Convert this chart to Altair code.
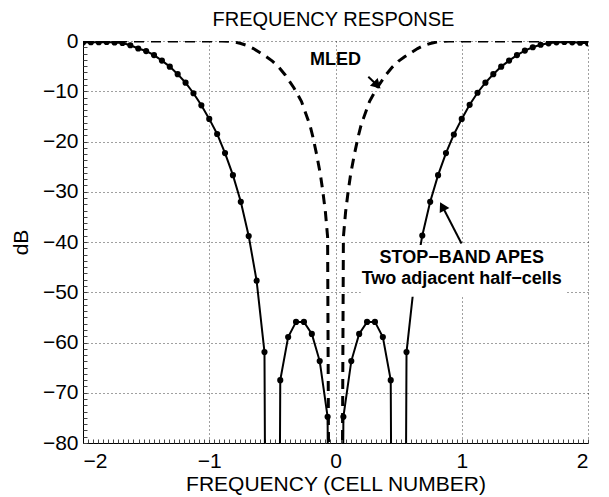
import altair as alt
import pandas as pd

FONT = "Liberation Sans"
NULL_DB = -400  # stands for -inf dB, drawn below the axis floor and clipped

# STOP-BAND APES (solid with markers), cell-number frequency
apes_freq = [
    -2.0, -1.9375, -1.875, -1.8125, -1.75, -1.6875, -1.625, -1.5625,
    -1.5, -1.4375, -1.375, -1.3125, -1.25, -1.1875, -1.125, -1.0625,
    -1.0, -0.9375, -0.875, -0.8125, -0.75, -0.6875, -0.625, -0.5625,
    -0.5, -0.4375, -0.375, -0.3125, -0.25, -0.1875, -0.125, -0.0625,
    0.0,
    0.0625, 0.125, 0.1875, 0.25, 0.3125, 0.375, 0.4375, 0.5,
    0.5625, 0.625, 0.6875, 0.75, 0.8125, 0.875, 0.9375, 1.0,
    1.0625, 1.125, 1.1875, 1.25, 1.3125, 1.375, 1.4375, 1.5,
    1.5625, 1.625, 1.6875, 1.75, 1.8125, 1.875, 1.9375, 2.0,
]
apes_db = [
    -0.3, -0.25, -0.25, -0.2, -0.3, -0.4, -0.85, -1.5,
    -2.0, -2.8, -3.9, -5.1, -6.6, -8.3, -10.4, -12.8,
    -15.5, -18.5, -22.3, -26.7, -32.0, -38.8, -47.7, -61.9,
    NULL_DB, -67.5, -58.9, -55.9, -55.9, -58.3, -63.7, -74.8,
    NULL_DB,
    -74.8, -63.7, -58.3, -55.9, -55.9, -58.9, -67.5, NULL_DB,
    -61.9, -47.7, -38.7, -32.0, -26.7, -22.3, -18.6, -15.5,
    -12.7, -10.3, -8.3, -6.6, -5.1, -3.9, -2.8, -1.9,
    -1.25, -0.74, -0.46, -0.26, -0.2, -0.26, -0.33, -0.46,
]

# MLED (dashed)
mled_freq = [
    -2.0, -1.6, -1.2, -0.9, -0.85, -0.8, -0.75, -0.7, -0.65, -0.6, -0.55,
    -0.5, -0.45, -0.4, -0.33, -0.27, -0.22, -0.2, -0.18, -0.15, -0.12,
    -0.1, -0.08, -0.0625, 0.0,
    0.0625, 0.08, 0.1, 0.12, 0.15, 0.18, 0.2, 0.22, 0.27, 0.33, 0.4,
    0.45, 0.5, 0.55, 0.6, 0.65, 0.7, 0.75, 0.8, 0.85, 0.9, 1.2, 1.6, 2.0,
]
mled_db = [
    0.0, 0.0, 0.0, 0.0, -0.05, -0.2, -0.5, -0.9, -1.5, -2.3, -3.1,
    -4.0, -5.2, -6.7, -9.3, -12.0, -15.5, -17.0, -19.0, -22.5, -26.5,
    -30.0, -34.0, -39.0, NULL_DB,
    -39.0, -34.0, -30.0, -26.5, -22.5, -19.0, -17.0, -15.5, -12.0, -9.3, -6.7,
    -5.2, -4.0, -3.1, -2.3, -1.5, -0.9, -0.5, -0.2, -0.05, 0.0, 0.0, 0.0, 0.0,
]

# annotations
title_text = ["FREQUENCY RESPONSE"]
label_text = ["MLED", "STOP\u2212BAND APES", "Two adjacent half\u2212cells"]
label_x = [0.0, 1.0, 1.0]
label_y = [-3.8, -43.2, -47.4]

box_x, box_x2, box_y, box_y2 = [0.2], [1.83], [-40.6], [-50.9]

arrow_id = ["stop", "stop", "mled", "mled"]
arrow_x = [0.998, 0.846, 0.26, 0.33]
arrow_y = [-40.3, -32.9, -7.1, -8.8]
head_x = [0.846, 0.33]
head_y = [-32.9, -8.8]
head_angle = [332, 135]

x_ticks = [-2, -1, 0, 1, 2]
y_ticks = [-80, -70, -60, -50, -40, -30, -20, -10, 0]
x_minor = [round(-2 + 0.04 * i, 2) for i in range(101)]
y_minor = [round(-80 + 1.25 * i, 2) for i in range(65)]

W, H = 505, 402

apes = pd.DataFrame({"f": apes_freq, "db": apes_db})
mled = pd.DataFrame({"f": mled_freq, "db": mled_db})
labels = pd.DataFrame({"t": label_text, "x": label_x, "y": label_y})
titles = pd.DataFrame({"t": title_text})
box = pd.DataFrame({"x": box_x, "x2": box_x2, "y": box_y, "y2": box_y2})
arrows = pd.DataFrame({"id": arrow_id, "x": arrow_x, "y": arrow_y, "o": list(range(4))})
heads = pd.DataFrame({"x": head_x, "y": head_y, "a": head_angle})

xs = alt.Scale(domain=[-2, 2], nice=False, zero=False)
ys = alt.Scale(domain=[-80, 0], nice=False, zero=False)

main_x_axis = alt.Axis(
    values=x_ticks, grid=True, gridDash=[1, 3], gridColor="#000", gridOpacity=0.75,
    ticks=False, tickSize=0, labelPadding=7, domainColor="#000", domainWidth=1,
    labelFont=FONT, labelFontSize=21, labelColor="#000",
    title="FREQUENCY (CELL NUMBER)", titleFont=FONT, titleFontSize=21,
    titleFontWeight="normal", titleColor="#000", titlePadding=2,
)
main_y_axis = alt.Axis(
    values=y_ticks, grid=True, gridDash=[1, 3], gridColor="#000", gridOpacity=0.75,
    ticks=False, tickSize=0, labelPadding=5, domainColor="#000", domainWidth=1,
    labelFont=FONT, labelFontSize=21, labelColor="#000",
    title="dB", titleFont=FONT, titleFontSize=21, titleFontWeight="normal",
    titleColor="#000", titleX=-56, titleY=201, titleAngle=270,
    titleBaseline="alphabetic", titleAlign="center",
)
minor_x_axis = alt.Axis(
    orient="top", offset=-H, values=x_minor, labels=False, domain=False,
    grid=False, ticks=True, tickSize=4, tickColor="#444", tickWidth=1, title=None,
)
minor_y_axis = alt.Axis(
    orient="right", offset=-W, values=y_minor, labels=False, domain=False,
    grid=False, ticks=True, tickSize=4, tickColor="#444", tickWidth=1, title=None,
)

mled_line = alt.Chart(mled).mark_line(
    color="#000", strokeWidth=3, strokeDash=[10, 7], clip=True
).encode(
    x=alt.X("f:Q", scale=xs, axis=main_x_axis),
    y=alt.Y("db:Q", scale=ys, axis=main_y_axis),
    order="f:Q",
)

apes_line = alt.Chart(apes).mark_line(color="#000", strokeWidth=2, clip=True).encode(
    x=alt.X("f:Q", scale=xs, axis=minor_x_axis),
    y=alt.Y("db:Q", scale=ys, axis=minor_y_axis),
    order="f:Q",
)

apes_pts = alt.Chart(apes).mark_point(
    filled=True, color="#000", size=38, opacity=1, clip=True
).encode(
    x=alt.X("f:Q", scale=xs, axis=None),
    y=alt.Y("db:Q", scale=ys, axis=None),
)

white_box = alt.Chart(box).mark_rect(color="white", opacity=1).encode(
    x=alt.X("x:Q", scale=xs, axis=None), x2="x2:Q",
    y=alt.Y("y:Q", scale=ys, axis=None), y2="y2:Q",
)

texts = alt.Chart(labels).mark_text(
    font=FONT, fontSize=18, fontWeight="bold", color="#000",
    align="center", baseline="middle",
).encode(
    x=alt.X("x:Q", scale=xs, axis=None),
    y=alt.Y("y:Q", scale=ys, axis=None),
    text="t:N",
)

title_mark = alt.Chart(titles).mark_text(
    font=FONT, fontSize=20, fontWeight="normal", color="#000",
    align="center", baseline="alphabetic",
).encode(
    x=alt.value(W / 2 - 2),
    y=alt.value(-15),
    text="t:N",
)

arrow_shafts = alt.Chart(arrows).mark_line(color="#000", strokeWidth=2).encode(
    x=alt.X("x:Q", scale=xs, axis=None),
    y=alt.Y("y:Q", scale=ys, axis=None),
    detail="id:N",
    order="o:Q",
)

arrow_heads = alt.Chart(heads).mark_point(
    shape="triangle-up", filled=True, color="#000", size=120, opacity=1
).encode(
    x=alt.X("x:Q", scale=xs, axis=None),
    y=alt.Y("y:Q", scale=ys, axis=None),
    angle=alt.Angle("a:Q", scale=None),
)

chart = alt.layer(
    mled_line, apes_line, apes_pts, white_box, texts, arrow_shafts, arrow_heads,
    title_mark,
).resolve_scale(
    x="shared", y="shared"
).resolve_axis(
    x="independent", y="independent"
).properties(
    width=W, height=H,
    padding={"left": 75, "top": 33, "right": 13, "bottom": 54},
    autosize=alt.AutoSizeParams(type="none"),
    background="white",
).configure_view(stroke=None)

chart.save("out.html", embed_options={"renderer": "svg", "actions": False})
